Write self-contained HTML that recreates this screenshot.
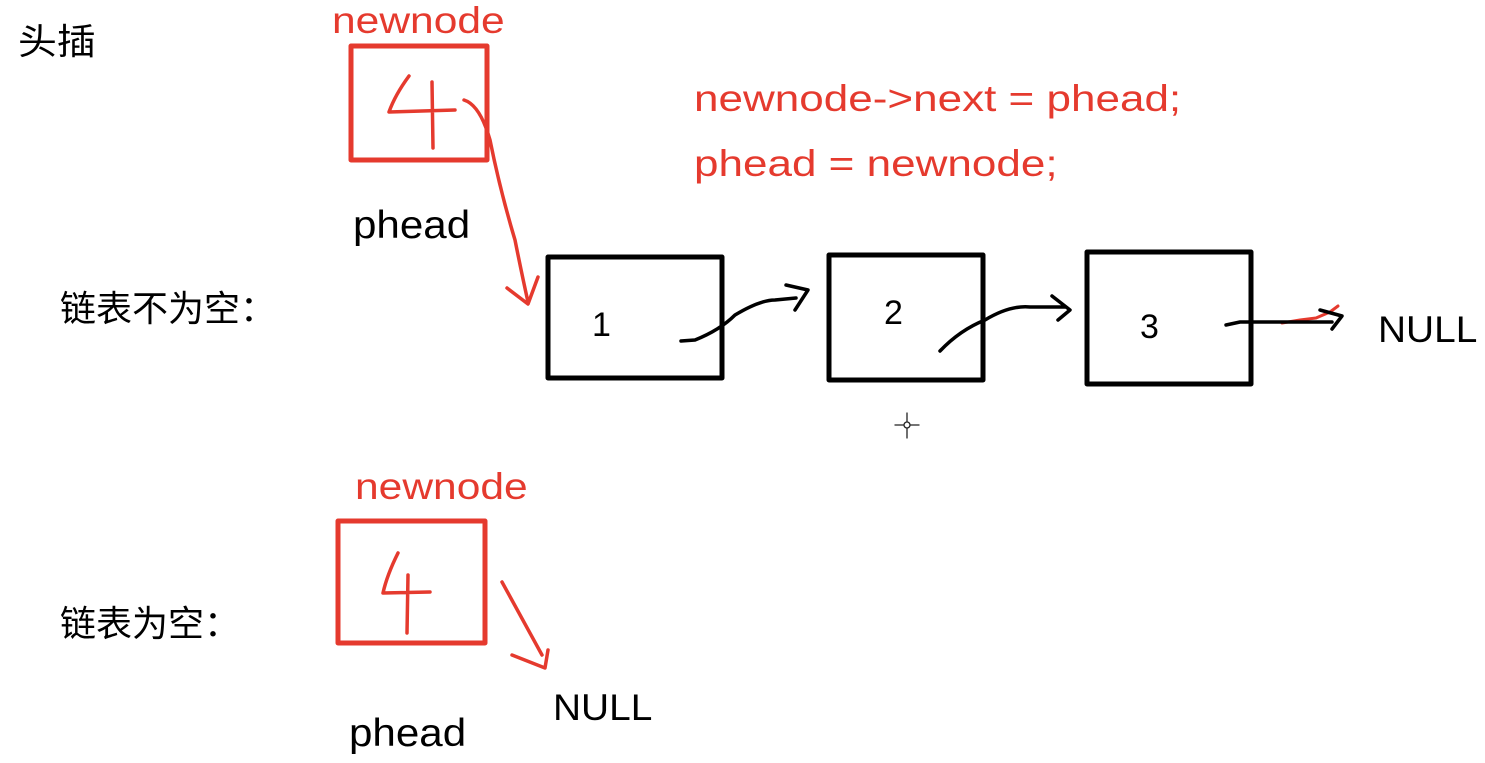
<!DOCTYPE html>
<html><head><meta charset="utf-8"><style>
body{margin:0;width:1485px;height:763px;background:#fff;overflow:hidden;position:relative;font-family:"Liberation Sans","Noto Sans CJK SC",sans-serif}
.t{position:absolute;white-space:nowrap;line-height:1;transform-origin:0 0}
.r{color:#e53a2e}
</style></head><body>
<svg width="1485" height="763" style="position:absolute;left:0;top:0" fill="none" stroke-linecap="round" stroke-linejoin="round">
<g stroke="#e53a2e" stroke-width="5">
<rect x="351" y="46" width="136" height="114"/>
<rect x="338" y="521" width="147" height="122"/>
</g>
<g stroke="#000" stroke-width="5">
<rect x="548" y="257" width="174" height="121"/>
<rect x="829" y="255" width="154" height="125"/>
<rect x="1087" y="252" width="164" height="132"/>
</g>
<g stroke="#e53a2e" stroke-width="3.5">
<path d="M409 76 Q395 95 389 112 L455 110 M432 82 L433 148"/>
<path d="M464 100 Q480 105 490 140 Q500 190 515 240 Q522 275 528 302 M507 288 L528 304 L538 277"/>
<path d="M398 553 Q387 575 383 593 L430 592 M408 575 L407 633"/>
<path d="M502 582 Q520 615 542 655 M512 655 L545 668 L548 650"/>
<path d="M1282 323 L1300 320 L1316 318 L1330 312 L1338 306" stroke-width="3"/>
</g>
<g stroke="#000" stroke-width="3.5">
<path d="M681 341 L695 340 Q720 330 735 315 Q760 300 775 300 L796 298 M786 285 L808 290 L795 310"/>
<path d="M940 351 Q960 330 985 320 Q1010 305 1030 307 L1065 307 M1052 296 L1070 310 L1058 320"/>
<path d="M1226 325 L1240 322 L1332 322 M1320 310 L1342 316 L1332 329"/>
</g>
<g stroke="#222" stroke-width="1.3">
<path d="M907 413 V438 M895 425 H919"/><circle cx="907" cy="425" r="3" fill="#fff"/>
</g>
</svg>
<div class="t" style="left:18px;top:24px;font-size:36px;transform:scaleX(1.08)">头插</div>
<div class="t r" style="left:332px;top:2px;font-size:37px;transform:scaleX(1.15)">newnode</div>
<div class="t r" style="left:694px;top:80px;font-size:37px;transform:scaleX(1.19)">newnode-&gt;next = phead;</div>
<div class="t r" style="left:694px;top:145px;font-size:37px;transform:scaleX(1.19)">phead = newnode;</div>
<div class="t" style="left:353px;top:206px;font-size:39px;transform:scaleX(1.08)">phead</div>
<div class="t" style="left:60px;top:291px;font-size:36px">链表不为空：</div>
<div class="t" style="left:592px;top:308px;font-size:34px">1</div>
<div class="t" style="left:884px;top:296px;font-size:34px">2</div>
<div class="t" style="left:1140px;top:310px;font-size:34px">3</div>
<div class="t" style="left:1378px;top:311px;font-size:37px;transform:scaleX(1.05)">NULL</div>
<div class="t r" style="left:355px;top:468px;font-size:37px;transform:scaleX(1.15)">newnode</div>
<div class="t" style="left:60px;top:606px;font-size:36px">链表为空：</div>
<div class="t" style="left:553px;top:689px;font-size:37px;transform:scaleX(1.05)">NULL</div>
<div class="t" style="left:349px;top:714px;font-size:39px;transform:scaleX(1.08)">phead</div>
</body></html>
